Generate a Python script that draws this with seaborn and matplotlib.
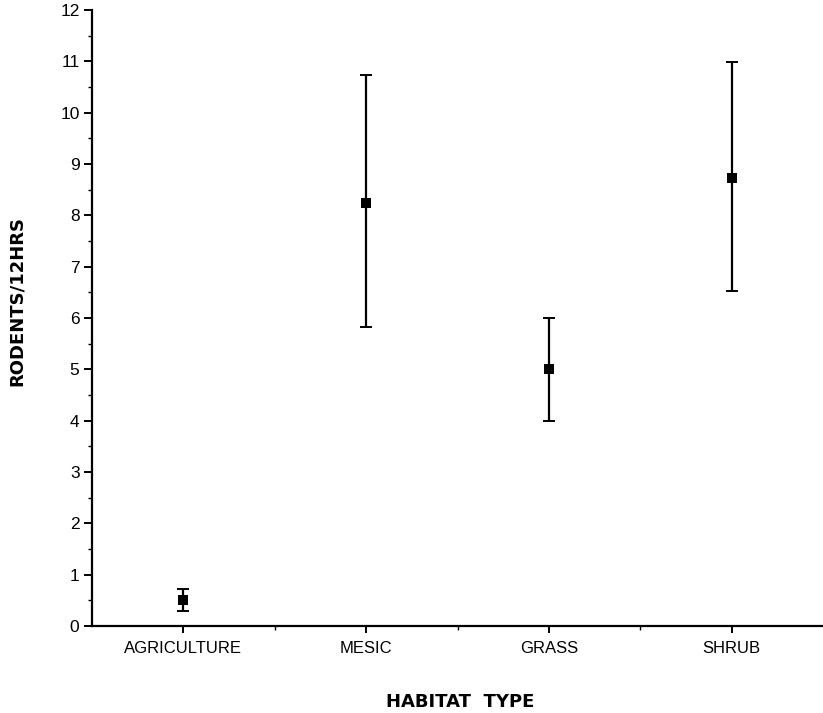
import matplotlib
matplotlib.use("Agg")
import matplotlib.pyplot as plt
from matplotlib.ticker import MultipleLocator, FixedLocator
import seaborn as sns
import pandas as pd

habitats = ["AGRICULTURE", "MESIC", "GRASS", "SHRUB"]
means = [0.50, 8.24, 5.00, 8.73]
lower = [0.29, 5.82, 4.00, 6.53]
upper = [0.73, 10.73, 6.00, 10.99]
yticks = list(range(0, 13))

sns.set_style("ticks")
plt.rcParams['font.family'] = ['Liberation Sans', 'DejaVu Sans']
plt.rcParams['text.color'] = 'black'

df = pd.DataFrame({"habitat": habitats, "mean": means})

fig = plt.figure(figsize=(8.23, 7.13), dpi=100)
ax = fig.add_axes([92/823, 87/713, 1 - 92/823, (626-10)/713])

xs = list(range(len(habitats)))
err_lo = [m - l for m, l in zip(means, lower)]
err_hi = [u - m for m, u in zip(means, upper)]
ax.errorbar(xs, means, yerr=[err_lo, err_hi], fmt='none', ecolor='black',
            elinewidth=1.6, capsize=4, capthick=1.4, zorder=2)
sns.scatterplot(data=df, x="habitat", y="mean", marker='s', color='black',
                s=45, edgecolor='black', linewidth=0, ax=ax, zorder=3, legend=False)

ax.set_xlim(-0.5, 3.5)
ax.set_ylim(0, 12)
ax.set_yticks(yticks)
ax.yaxis.set_minor_locator(MultipleLocator(0.5))
ax.set_xticks(xs)
ax.set_xticklabels(habitats)
ax.xaxis.set_minor_locator(FixedLocator([0.5, 1.5, 2.5]))

for s in ["top", "right"]:
    ax.spines[s].set_visible(False)
for s in ["left", "bottom"]:
    ax.spines[s].set_linewidth(1.6)
    ax.spines[s].set_color('black')

ax.tick_params(axis='y', which='major', length=6, width=1.4, direction='out',
               labelsize=12.5, pad=3, colors='black')
ax.tick_params(axis='y', which='minor', length=3, width=1.0, direction='out', colors='black')
ax.tick_params(axis='x', which='major', length=5, width=1.4, direction='out',
               labelsize=12, pad=6, colors='black')
ax.tick_params(axis='x', which='minor', length=3, width=1.0, direction='out', colors='black')

ax.set_xlabel("")
ax.set_ylabel("")
fig.text(17/823, 1 - 301/713, "RODENTS/12HRS", rotation=90, ha='center', va='center',
         fontsize=13, fontweight='bold', color='black', family=['DejaVu Sans'])
fig.text(460/823, 1 - 702/713, "HABITAT  TYPE", ha='center', va='center',
         fontsize=13, fontweight='bold', color='black', family=['DejaVu Sans'])

fig.savefig("out.png", dpi=100)
